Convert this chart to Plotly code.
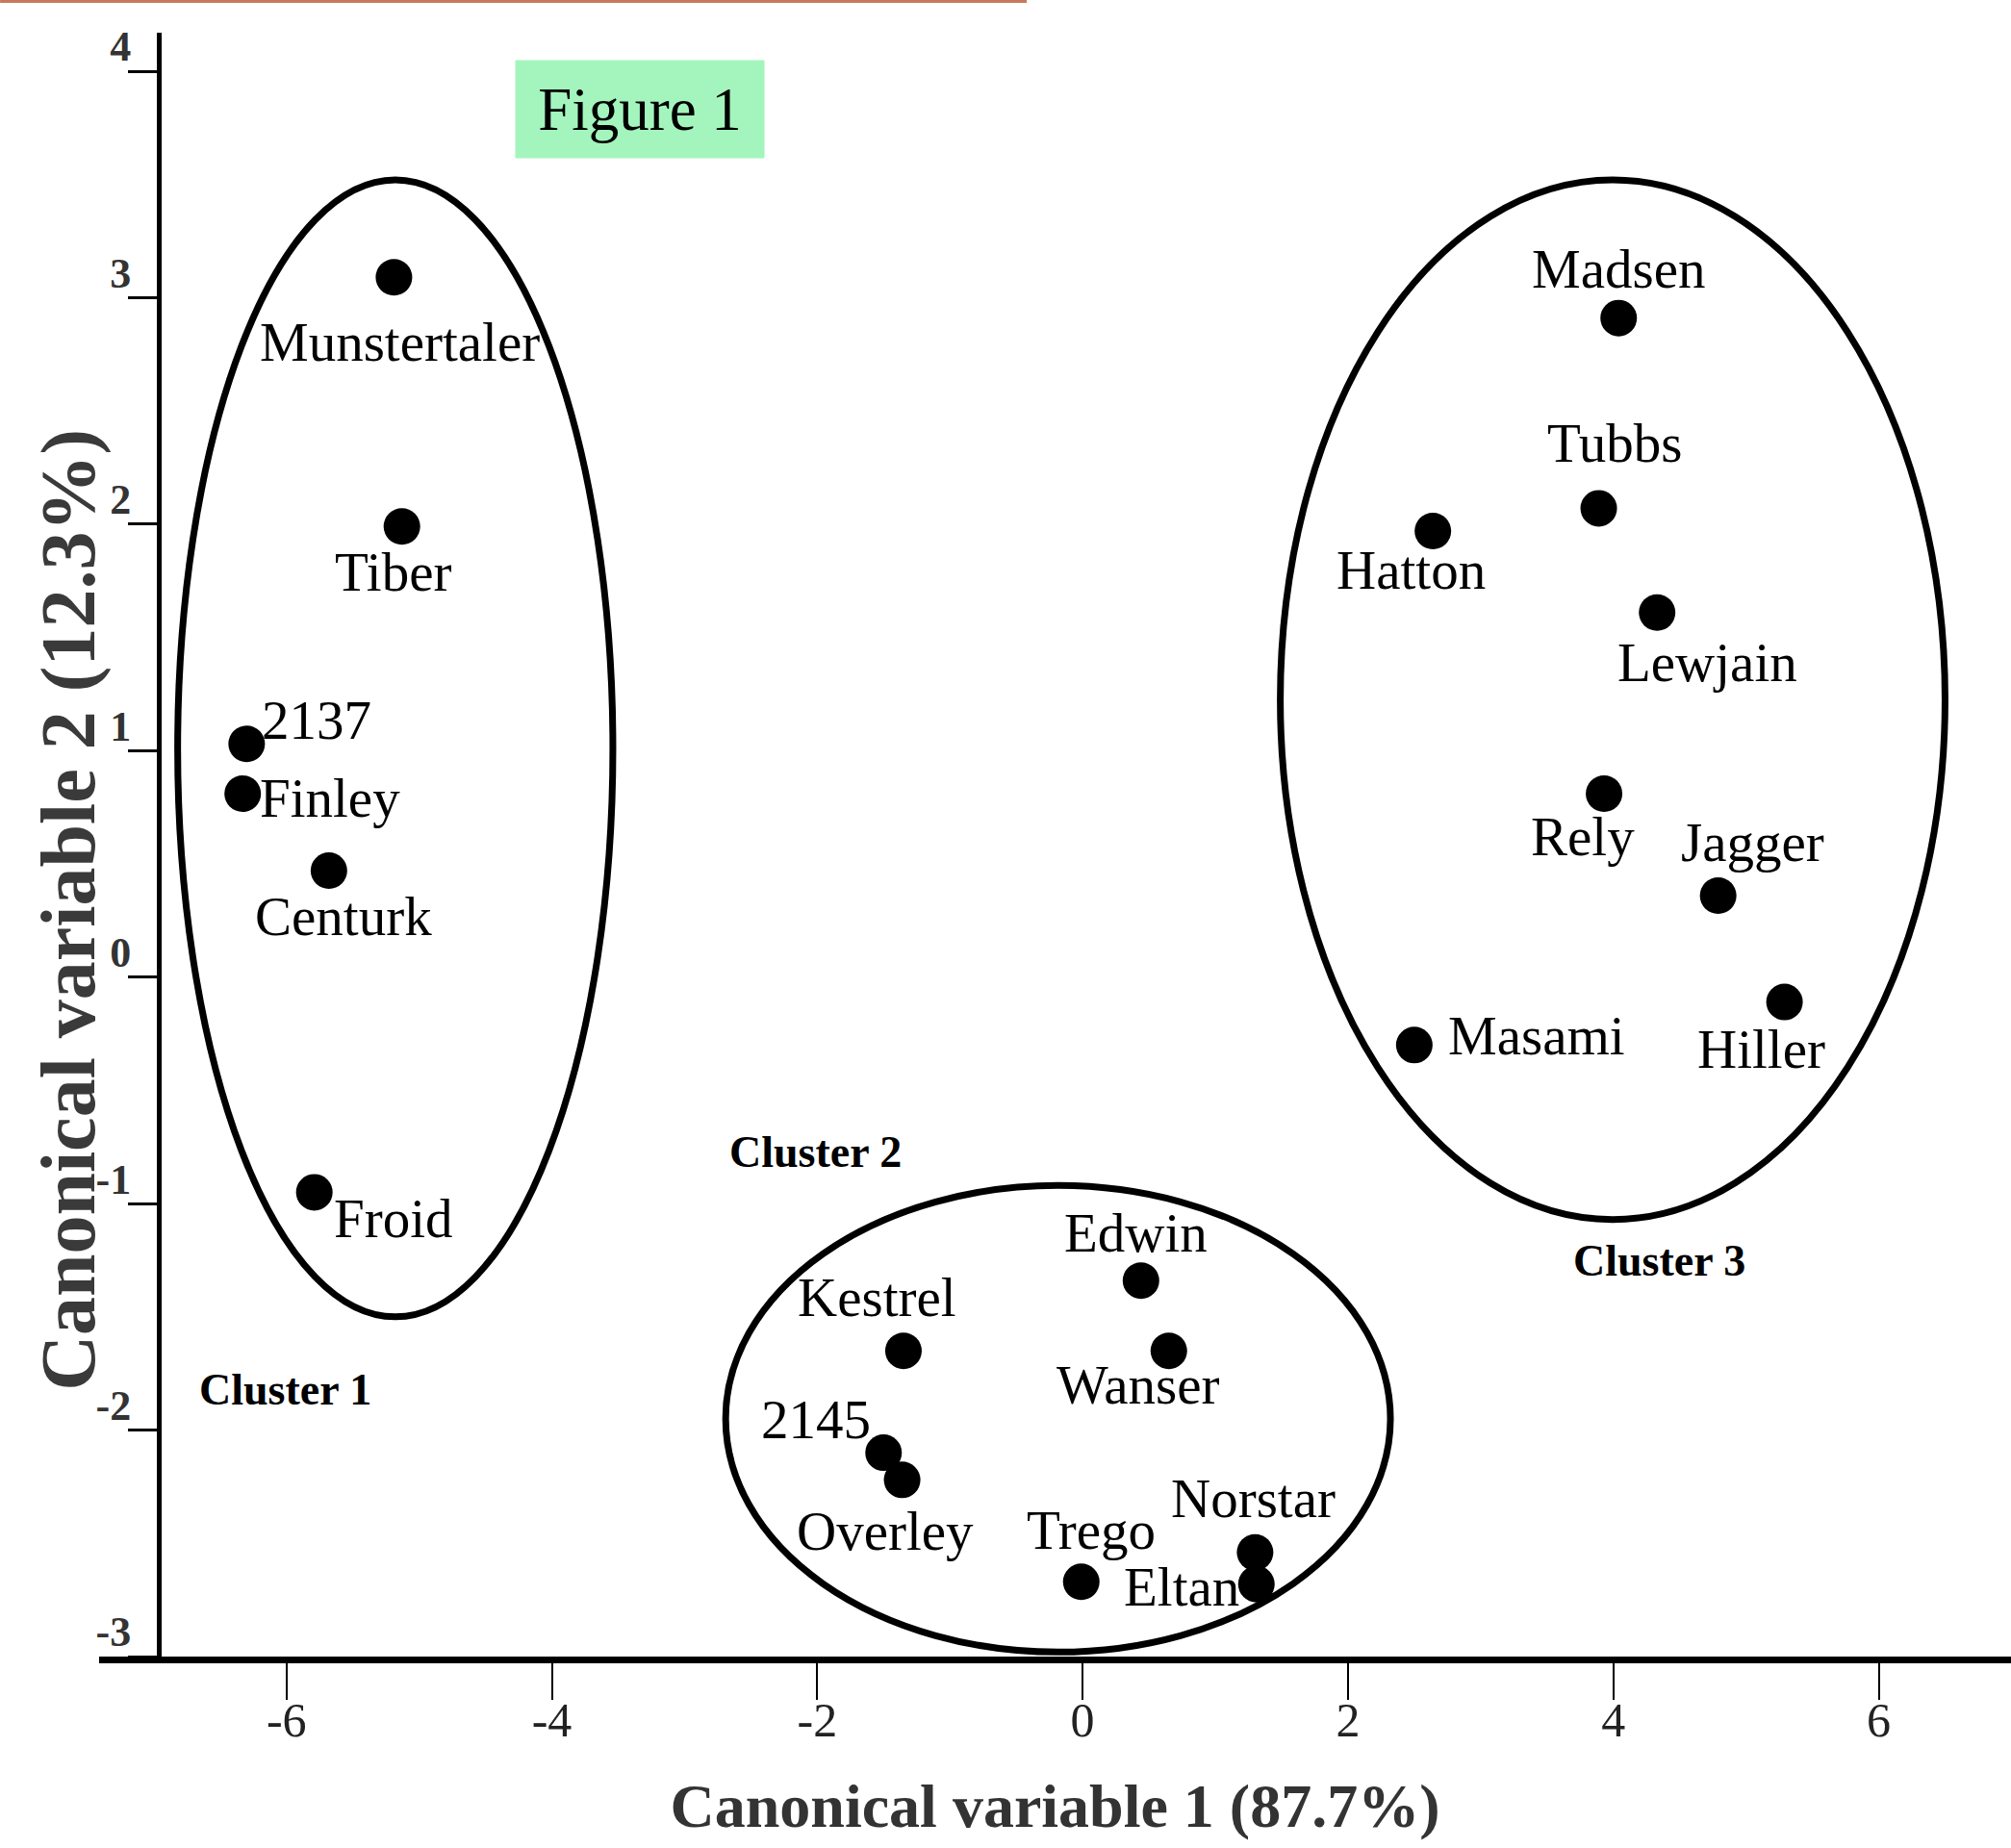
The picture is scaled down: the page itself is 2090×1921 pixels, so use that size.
import plotly.graph_objects as go

# ---------------- data ----------------
cultivars = ["Munstertaler", "Tiber", "2137", "Finley", "Centurk", "Froid",
             "Edwin", "Wanser", "Kestrel", "2145", "Overley", "Trego", "Norstar", "Eltan",
             "Madsen", "Tubbs", "Hatton", "Lewjain", "Rely", "Jagger", "Hiller", "Masami"]
cv1 = [-5.19, -5.13, -6.30, -6.33, -5.68, -5.79,
       0.44, 0.65, -1.35, -1.50, -1.36, -0.01, 1.30, 1.31,
       4.04, 3.89, 2.64, 4.33, 3.93, 4.79, 5.29, 2.50]
cv2 = [3.09, 1.99, 1.03, 0.81, 0.47, -0.95,
       -1.34, -1.65, -1.65, -2.10, -2.22, -2.67, -2.54, -2.68,
       2.91, 2.07, 1.97, 1.61, 0.81, 0.36, -0.11, -0.30]

cluster_names = ["Cluster 1", "Cluster 2", "Cluster 3"]
ellipse_x0 = [-6.82, -2.69, 1.49]
ellipse_x1 = [-3.54, 2.32, 6.50]
ellipse_y0 = [-1.50, -2.98, -1.07]
ellipse_y1 = [3.52, -0.92, 3.52]
cluster_label_x = [-6.01, -2.01, 4.35]
cluster_label_y = [-1.82, -0.77, -1.25]

x_tickvals = [-6, -4, -2, 0, 2, 4, 6]
x_ticktext = ["-6", "-4", "-2", "0", "2", "4", "6"]
y_tickvals = [-3, -2, -1, 0, 1, 2, 3, 4]
y_ticktext = ["-3", "-2", "-1", "0", "1", "2", "3", "4"]

x_title = "Canonical variable 1 (87.7%)"
y_title = "Canonical variable 2 (12.3%)"

# label offsets in pixels (dx, dy) relative to each point
label_offsets = {
    "Munstertaler": (6, -67), "Tiber": (-9, -47), "2137": (73, 25), "Finley": (91, -4),
    "Centurk": (15, -47), "Froid": (82, -27),
    "Edwin": (-5, 50), "Kestrel": (-27, 56), "Wanser": (-32, -35), "2145": (-70, 35),
    "Overley": (-18, -53), "Trego": (10, 54), "Norstar": (-2, 56), "Eltan": (-78, -3),
    "Madsen": (0, 51), "Tubbs": (17, 68), "Hatton": (-23, -41), "Lewjain": (52, -52),
    "Rely": (-22, -44), "Jagger": (36, 55), "Hiller": (-24, -49), "Masami": (127, 10),
}

SERIF = "Liberation Serif, Times New Roman, serif"

fig = go.Figure()
fig.add_trace(go.Scatter(
    x=cv1, y=cv2, mode="markers", text=cultivars,
    marker=dict(color="black", size=38, line=dict(width=0)),
    showlegend=False, hoverinfo="text+x+y",
))

shapes = []
for x0, x1, y0, y1 in zip(ellipse_x0, ellipse_x1, ellipse_y0, ellipse_y1):
    shapes.append(dict(type="circle", xref="x", yref="y", x0=x0, x1=x1, y0=y0, y1=y1,
                       line=dict(color="black", width=7), layer="below"))
# thin orange rule at the very top of the page
shapes.append(dict(type="line", xref="paper", yref="paper", x0=-0.0518, x1=0.4852,
                   y0=1.0193, y1=1.0193, line=dict(color="#c47b5c", width=3)))

annotations = []
for name, x, y in zip(cultivars, cv1, cv2):
    dx, dy = label_offsets[name]
    annotations.append(dict(x=x, y=y, xref="x", yref="y", text=name, showarrow=False,
                            xshift=dx, yshift=dy,
                            font=dict(family=SERIF, size=57, color="black")))
for name, x, y in zip(cluster_names, cluster_label_x, cluster_label_y):
    annotations.append(dict(x=x, y=y, xref="x", yref="y", text=name, showarrow=False,
                            font=dict(family=SERIF, size=46, color="black", weight="bold")))
annotations.append(dict(x=0.2828, y=0.9529, xref="paper", yref="paper", text="Figure 1",
                        showarrow=False, xanchor="center", yanchor="middle",
                        width=256, height=99, bgcolor="#a3f5bd",
                        font=dict(family=SERIF, size=63, color="black")))
annotations.append(dict(x=-0.0156, y=0.4598, xref="paper", yref="paper", text=y_title,
                        showarrow=False, textangle=-90, xanchor="center", yanchor="middle",
                        font=dict(family=SERIF, size=80, color="#3a3a3a", weight="bold")))

fig.update_layout(
    width=2090, height=1921,
    margin=dict(l=103, r=0, t=34, b=199),
    paper_bgcolor="white", plot_bgcolor="white",
    shapes=shapes, annotations=annotations,
    xaxis=dict(range=[-7.412, 6.997], showgrid=False, zeroline=False,
               showline=True, linecolor="black", linewidth=7,
               tickmode="array", tickvals=x_tickvals, ticktext=x_ticktext,
               ticks="outside", ticklen=38, tickwidth=2, tickcolor="black",
               ticklabelstandoff=-22,
               tickfont=dict(family=SERIF, size=50, color="#222"),
               title=dict(text=x_title, standoff=42,
                          font=dict(family=SERIF, size=64, color="#333", weight="bold"))),
    yaxis=dict(range=[-3.0, 4.17], showgrid=False, zeroline=False,
               anchor="free", position=0.0312,
               showline=True, linecolor="black", linewidth=5,
               tickmode="array", tickvals=y_tickvals, ticktext=y_ticktext,
               ticks="outside", ticklen=30, tickwidth=3, tickcolor="black",
               ticklabelshift=-26, ticklabelstandoff=-12,
               tickfont=dict(family=SERIF, size=44, color="#333", weight="bold")),
)

fig.write_html("out.html", config={"displayModeBar": False},
               post_script="document.body.style.margin='0px';")
